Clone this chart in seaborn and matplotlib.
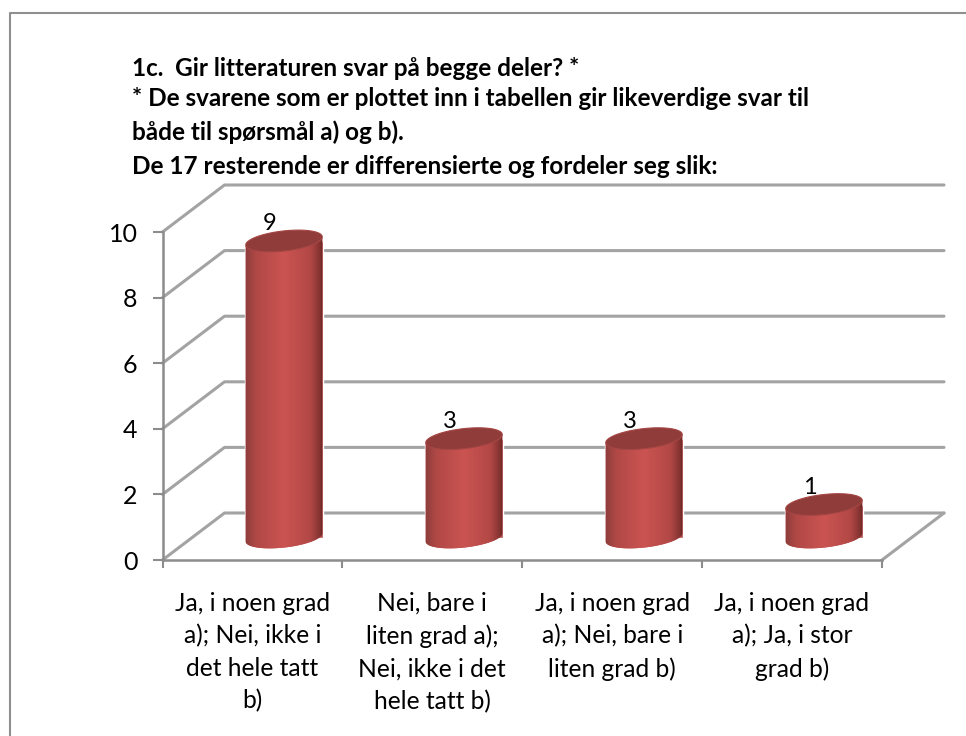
import numpy as np
import pandas as pd
import matplotlib
matplotlib.use("Agg")
import matplotlib.pyplot as plt
import seaborn as sns
from matplotlib.colors import LinearSegmentedColormap
from matplotlib.patches import Polygon

categories = [
    "Ja, i noen grad\na); Nei, ikke i\ndet hele tatt\nb)",
    "Nei, bare i\nliten grad a);\nNei, ikke i det\nhele tatt b)",
    "Ja, i noen grad\na); Nei, bare i\nliten grad b)",
    "Ja, i noen grad\na); Ja, i stor\ngrad b)",
]
values = [9, 3, 3, 1]
yticks = [0, 2, 4, 6, 8, 10]
title_lines = [
    "1c.  Gir litteraturen svar på begge deler? *",
    "* De svarene som er plottet inn i tabellen gir likeverdige svar til",
    "både til spørsmål a) og b).",
    "De 17 resterende er differensierte og fordeler seg slik:",
]

W, H = 966, 736
GRID = "#a3a3a3"
AXIS = "#8c8c8c"

sns.set_style("white")
plt.rcParams["font.family"] = ["Lato", "DejaVu Sans"]

fig = plt.figure(figsize=(W / 100, H / 100), dpi=100)


def px_axes(left, top, right, bottom, z):
    return fig.add_axes([left / W, 1 - bottom / H, (right - left) / W, (bottom - top) / H], zorder=z)


# bakgrunn i pikselkoordinater: ramme og vegger
bg = px_axes(0, 0, W, H, 0)
bg.set_xlim(0, W)
bg.set_ylim(H, 0)
bg.axis("off")

bg.plot([10, 10, W], [H, 13, 13], color="#8f8f8f", lw=1.5)
for y, line in zip([68, 99, 132, 166], title_lines):
    bg.text(132, y, line, fontsize=17.5, fontweight="bold", va="center", ha="left", color="black")

# fremre akse med tall og kategorier
front = px_axes(162.5, 232, 882, 560, 1)
front.patch.set_alpha(0)
front.set_xlim(0, 4)
front.set_ylim(0, 10)
front.set_yticks(yticks)
front.set_xticks(range(5))
front.set_xticklabels([])
front.set_xticks([0.5, 1.5, 2.5, 3.5], labels=categories, minor=True, linespacing=1.49)
front.tick_params(axis="x", which="major", length=6, width=1.5, color=AXIS, direction="out", bottom=True)
front.tick_params(axis="x", which="minor", length=0, pad=23, labelsize=17.7, labelcolor="black")
front.tick_params(axis="y", length=7, width=1.5, color=AXIS, direction="out", left=True, labelsize=18,
                  pad=11, labelcolor="black")
for lab in front.get_xticklabels(minor=True):
    lab.set_verticalalignment("top")
for lab in front.get_yticklabels():
    lab.set_verticalalignment("center_baseline")
sns.despine(ax=front, top=True, right=True)
front.spines["left"].set_color(AXIS)
front.spines["bottom"].set_color(AXIS)
front.spines["left"].set_linewidth(1.8)
front.spines["bottom"].set_linewidth(1.8)

# vegg og gulv, 62 px inn og 47 px opp
dx, dy = 62, -47
for t in yticks:
    x0, y0 = bg.transData.inverted().transform(front.transData.transform((0, t)))
    bg.plot([x0, x0 + dx, 944], [y0, y0 + dy, y0 + dy], color=GRID, lw=2.2, solid_joinstyle="round")
bg.plot([882, 944], [560, 513], color=GRID, lw=2.2)

# sylindrene
bars = px_axes(194, 208, 914, 537.5, 2)
bars.patch.set_alpha(0)
df = pd.DataFrame({"kategori": categories, "verdi": values})
sns.barplot(data=df, x="kategori", y="verdi", color="#c04d4b", width=0.428, saturation=1, ax=bars)
bars.set_xlim(-0.5, 3.5)
bars.set_ylim(0, 10)
bars.axis("off")

grad = LinearSegmentedColormap.from_list(
    "syl",
    [(0, "#8c3d3b"), (0.14, "#b04846"), (0.5, "#cb5451"), (0.84, "#b24846"), (0.95, "#8a3634"), (1, "#6a2725")],
)
a, b, tilt = 38.5, 10, np.radians(-6.5)


def ell(cx, cy, t):
    return np.column_stack([
        cx + a * np.cos(t) * np.cos(tilt) - b * np.sin(t) * np.sin(tilt),
        cy + a * np.cos(t) * np.sin(tilt) + b * np.sin(t) * np.cos(tilt),
    ])


to_px = bg.transData.inverted()
for i, v in enumerate(values):
    cx, base = to_px.transform(bars.transData.transform((i, 0)))
    _, top = to_px.transform(bars.transData.transform((i, v)))
    tt = np.linspace(0, np.pi, 60)
    body = np.vstack([ell(cx, base, tt), ell(cx, top, tt[::-1])])
    shape = Polygon(body, closed=True, transform=bg.transData, fc="#c04d4b", ec="none", clip_on=False)
    bars.add_patch(shape)
    im = bars.imshow(
        np.linspace(0, 1, 128).reshape(1, -1), cmap=grad, aspect="auto",
        extent=(i - 0.214, i + 0.214, -1, v + 1), zorder=3,
    )
    im.set_clip_box(fig.bbox)
    im.set_clip_path(shape)
    cap = Polygon(ell(cx, top, np.linspace(0, 2 * np.pi, 80)), closed=True, transform=bg.transData,
                  fc="#8f3c3a", ec="#a54644", lw=0.8, clip_on=False, zorder=4)
    bars.add_patch(cap)
    bars.annotate(str(v), xy=(i, v), xytext=(-14, 17), textcoords="offset pixels", ha="center", va="center",
                  fontsize=17, color="black", annotation_clip=False, zorder=5)
bars.set_xlim(-0.5, 3.5)
bars.set_ylim(0, 10)

fig.savefig("out.png", dpi=100)
